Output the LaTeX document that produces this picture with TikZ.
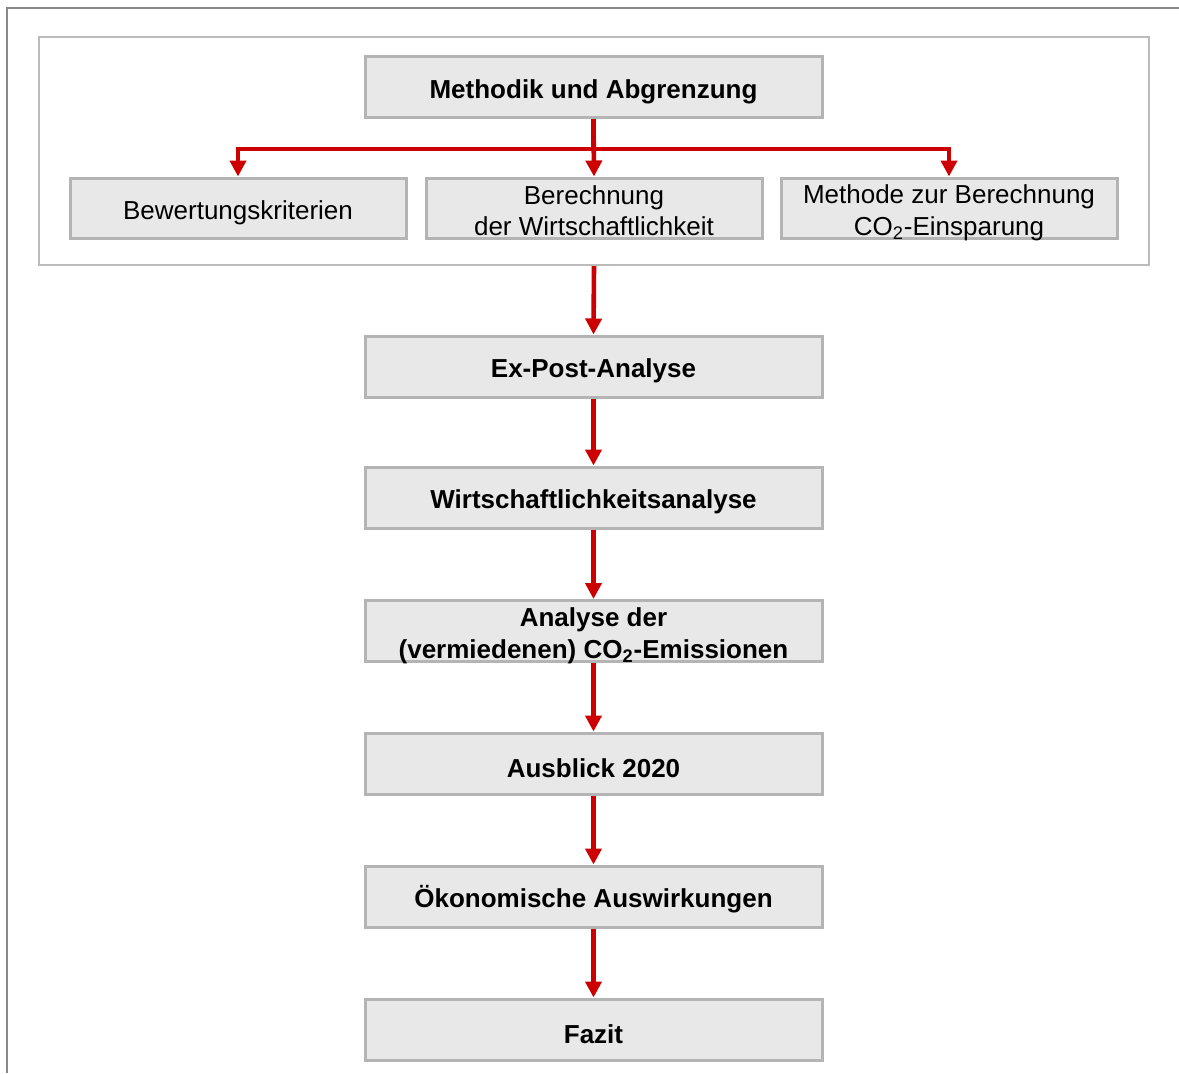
\documentclass[tikz,border=0pt]{standalone}
\usepackage{fontspec}
\setmainfont{Liberation Sans}
\usetikzlibrary{arrows.meta}
\definecolor{boxfill}{HTML}{E8E8E8}
\definecolor{boxline}{HTML}{B4B4B4}
\definecolor{arrred}{HTML}{CC0000}
\definecolor{framegray}{HTML}{888888}
\definecolor{contgray}{HTML}{BBBBBB}
\newcommand{\twolines}[3][-13.5pt]{\raisebox{#1}[0pt][0pt]{\begin{tabular}[b]{@{}c@{}}#2\\#3\end{tabular}}}
\begin{document}
\begin{tikzpicture}[x=0.5pt,y=-0.5pt,
  stepnode/.style={draw=boxline, fill=boxfill, line width=1.5pt, inner sep=0pt, font=\fontsize{13}{15.6}\selectfont},
  oneline/.style={execute at begin node={\rule{0pt}{14pt}}},
  wide/.style={stepnode, minimum width=228.5pt, minimum height=30.5pt, font=\fontsize{13}{15.6}\selectfont\bfseries},
  small/.style={stepnode, minimum width=168pt, minimum height=30pt},
  flow/.style={draw=arrred, line width=2.3pt, -{Triangle[width=8pt,length=8pt]}}]
\useasboundingbox (0,0) rectangle (1179,1073);
\fill[white] (0,0) rectangle (1179,1073);
% outer frame (cropped)
\draw[framegray, line width=1pt] (7,1073) -- (7,8) -- (1179,8);
% container
\node[draw=contgray, line width=1.2pt, minimum width=555pt, minimum height=114pt, inner sep=0pt] (cont) at (594,151) {};
% nodes
\node[wide, oneline] (meth) at (593.5,87) {Methodik und Abgrenzung};
\node[small, oneline] (bew) at (238,208) {Bewertungskriterien};
\node[small] (ber) at (594,208) {\twolines[-13.7pt]{Berechnung}{der Wirtschaftlichkeit}};
\node[small] (meco) at (949,208) {\twolines{Methode zur Berechnung}{CO\textsubscript{2}-Einsparung}};
\node[wide, oneline] (expost) at (593.5,366.5) {Ex-Post-Analyse};
\node[wide, oneline] (wirt) at (593.5,497.5) {Wirtschaftlichkeitsanalyse};
\node[wide] (analyse) at (593.5,631) {\twolines{Analyse der}{(vermiedenen) CO\textsubscript{2}-Emissionen}};
\node[wide, oneline] (ausblick) at (593.5,763.5) {Ausblick 2020};
\node[wide, oneline] (oeko) at (593.5,896.5) {Ökonomische Auswirkungen};
\node[wide, oneline] (fazit) at (593.5,1029.5) {Fazit};
% connectors
\draw[flow] (meth.south) -- (ber.north);
\draw[flow] (meth.south) -- ++(0,30) -| (bew.north);
\draw[flow] (meth.south) -- ++(0,30) -| (meco.north);
\draw[flow] (cont.south) -- (expost.north);
\draw[flow] (expost.south) -- (wirt.north);
\draw[flow] (wirt.south) -- (analyse.north);
\draw[flow] (analyse.south) -- (ausblick.north);
\draw[flow] (ausblick.south) -- (oeko.north);
\draw[flow] (oeko.south) -- (fazit.north);
\end{tikzpicture}
\end{document}
